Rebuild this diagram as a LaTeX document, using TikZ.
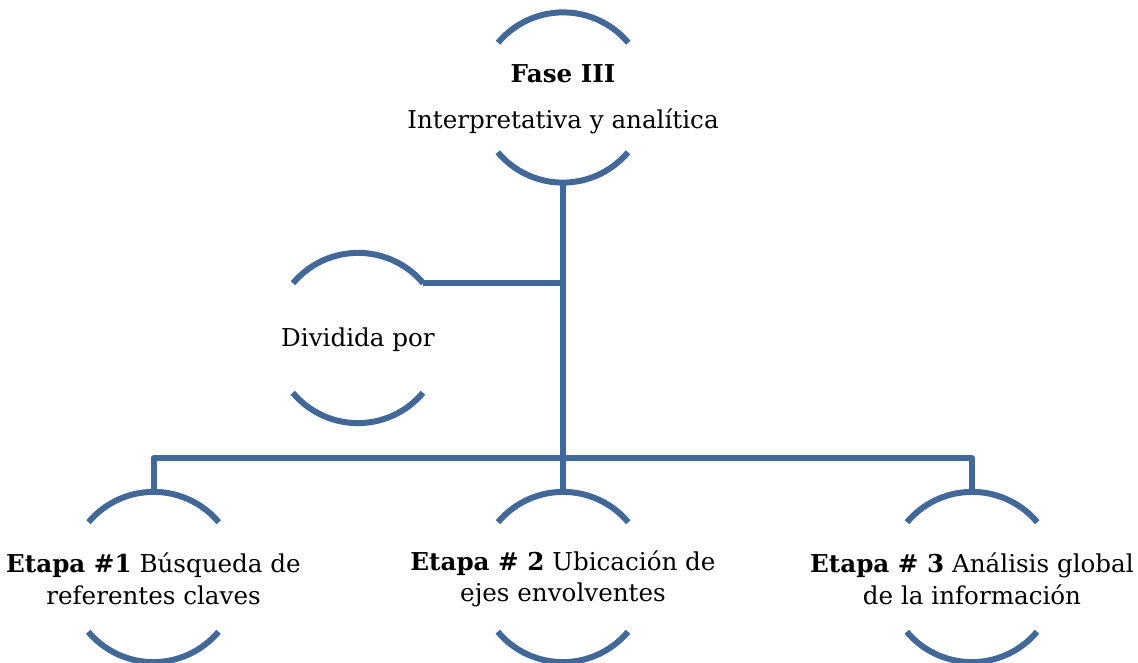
\documentclass[tikz,border=0pt]{standalone}
\usepackage{fontspec}
\setmainfont{DejaVu Serif}
\definecolor{ringblue}{HTML}{426898}
\tikzset{
  ring/.style={circle, minimum size=170pt, inner sep=0pt},
  lbl/.style={align=center, inner sep=0pt, yshift=-2pt, font=\fontsize{24.6}{31.5}\selectfont},
  link/.style={ringblue, line width=6pt, line join=round},
}
\begin{document}
\begin{tikzpicture}[x=1pt, y=1pt]
\useasboundingbox (0,0) rectangle (1138,662);
% circles
\node[ring] (fase) at (563,564.5) {};
\node[ring] (div) at (358,324) {};
\node[ring] (et1) at (153.5,85) {};
\node[ring] (et2) at (563,85) {};
\node[ring] (et3) at (972,85) {};
\foreach \n in {fase, div, et1, et2, et3} {
 \draw[link] (\n.40) arc[start angle=40, end angle=140, radius=85pt];
 \draw[link] (\n.220) arc[start angle=220, end angle=320, radius=85pt];
}
% texts
\node[lbl] (faseT) at (fase) {\textbf{Fase III}\\[14pt]Interpretativa y analítica};
\node[lbl] (divT) at (div) {Dividida por};
\node[lbl] (et1T) at (et1) {\textbf{Etapa \#1} Búsqueda de\\referentes claves};
\node[lbl] (et2T) at (et2) {\textbf{Etapa \# 2} Ubicación de\\ejes envolventes};
\node[lbl] (et3T) at (et3) {\textbf{Etapa \# 3} Análisis global\\de la información};
% connectors
\coordinate (bar) at (563,204);
\draw[link] (fase.south) -- (et2.north);
\draw[link] (div.40) -- (div.40 -| fase.south);
\draw[link] (et1.north) -- (et1.north |- bar) -- (et3.north |- bar) -- (et3.north);
\end{tikzpicture}
\end{document}
